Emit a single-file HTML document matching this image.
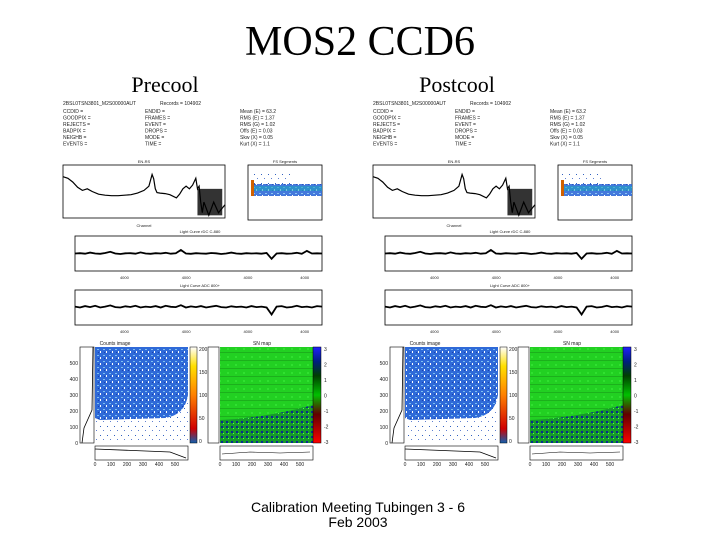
<!DOCTYPE html>
<html><head><meta charset="utf-8"><style>
body{margin:0;background:#fff;width:720px;height:540px;overflow:hidden;font-family:"Liberation Serif",serif}
svg{position:absolute;left:0;top:0}
</style></head><body>
<svg id="s" width="720" height="540" viewBox="0 0 720 540">
<defs>
<pattern id="noiseB" width="6" height="6" patternUnits="userSpaceOnUse">
<rect width="6" height="6" fill="#2f6ad8"/><rect x="1" y="1" width="2" height="1" fill="#7fc0f0"/><rect x="4" y="3" width="1" height="2" fill="#fff"/><rect x="2" y="4" width="1" height="1" fill="#1a3fb0"/></pattern>
<pattern id="noiseW" width="7" height="9" patternUnits="userSpaceOnUse">
<rect width="7" height="9" fill="#fff"/><rect x="2" y="3" width="1" height="1" fill="#3060c0"/><rect x="5" y="7" width="1" height="1" fill="#6080d0"/></pattern>
<pattern id="noiseG" width="8" height="8" patternUnits="userSpaceOnUse">
<rect width="8" height="8" fill="#22d022"/><rect x="0" y="0" width="8" height="1" fill="#1cb01c"/><rect x="3" y="4" width="2" height="2" fill="#30e030"/></pattern>
<pattern id="noiseGD" width="5" height="5" patternUnits="userSpaceOnUse">
<rect width="5" height="5" fill="#169a2a"/><rect x="1" y="1" width="2" height="2" fill="#0a2a90"/><rect x="3" y="3" width="1" height="1" fill="#50ff50"/></pattern>
<linearGradient id="cb1" x1="0" y1="1" x2="0" y2="0"><stop offset="0" stop-color="#1060b0"/><stop offset="0.15" stop-color="#d00000"/><stop offset="0.5" stop-color="#ff8000"/><stop offset="0.8" stop-color="#ffe000"/><stop offset="1" stop-color="#fff"/></linearGradient>
<linearGradient id="cb2" x1="0" y1="1" x2="0" y2="0"><stop offset="0" stop-color="#ff0000"/><stop offset="0.3" stop-color="#600000"/><stop offset="0.5" stop-color="#00c000"/><stop offset="0.7" stop-color="#004000"/><stop offset="0.85" stop-color="#002080"/><stop offset="1" stop-color="#2020ff"/></linearGradient>
</defs>
<text x="360" y="55" font-size="42" text-anchor="middle">MOS2 CCD6</text>
<text x="165" y="92" font-size="22" text-anchor="middle">Precool</text>
<text x="457" y="92" font-size="22" text-anchor="middle">Postcool</text>
<text x="358" y="512" font-size="14" text-anchor="middle" font-family="Liberation Sans,sans-serif">Calibration Meeting Tubingen 3 - 6</text>
<text x="358" y="527" font-size="14" text-anchor="middle" font-family="Liberation Sans,sans-serif">Feb 2003</text>
</svg>
<script>
const specX=[0,0.03,0.06,0.09,0.12,0.15,0.18,0.22,0.26,0.3,0.34,0.38,0.42,0.46,0.5,0.53,0.55,0.56,0.57,0.58,0.6,0.63,0.66,0.7,0.72,0.74,0.76,0.78,0.8,0.82,0.83,0.84,0.85,0.86,0.87,0.9,0.93,0.96,1];
const specY=[0.78,0.75,0.68,0.58,0.52,0.55,0.5,0.45,0.43,0.42,0.42,0.43,0.44,0.47,0.52,0.6,0.82,0.74,0.55,0.48,0.47,0.46,0.44,0.38,0.45,0.55,0.6,0.55,0.62,0.75,0.55,0.6,0.3,0.1,0.3,0.05,0.3,0.1,0.25];
const lc1=[0.5,0.52,0.49,0.55,0.5,0.48,0.53,0.6,0.5,0.47,0.51,0.52,0.49,0.56,0.5,0.48,0.52,0.5,0.54,0.49,0.51,0.7,0.5,0.48,0.52,0.5,0.49,0.53,0.51,0.47,0.5,0.55,0.5,0.48,0.52,0.5,0.51,0.49,0.53,0.2,0.5,0.52,0.49,0.5,0.54,0.48,0.65,0.5,0.51,0.5];
const lc2=[0.55,0.5,0.58,0.52,0.6,0.5,0.55,0.62,0.52,0.5,0.57,0.53,0.6,0.5,0.55,0.52,0.58,0.5,0.6,0.54,0.52,0.63,0.5,0.56,0.52,0.58,0.5,0.55,0.6,0.52,0.5,0.57,0.53,0.55,0.5,0.58,0.52,0.55,0.5,0.1,0.55,0.58,0.5,0.53,0.6,0.52,0.55,0.5,0.58,0.55];
const hdrL=["CCDID   =","GOODPIX =","REJECTS =","BADPIX  =","NEIGHB  =","EVENTS  ="];
const hdrM=["ENDID  =","FRAMES =","EVENT  =","DROPS  =","MODE   =","TIME   ="];
const hdrR=["Mean (E) = 63.2","RMS (E) = 1.37","RMS (G) = 1.02","Offs (E) = 0.03","Skw (X) = 0.05","Kurt (X) = 1.1"];
const NS="http://www.w3.org/2000/svg";
const svg=document.getElementById('s');
function el(t,a,p){const e=document.createElementNS(NS,t);for(const k in a)e.setAttribute(k,a[k]);(p||svg).appendChild(e);return e;}
function txt(x,y,s,sz,p,anc){const e=el('text',{x:x,y:y,'font-size':sz,'font-family':'Liberation Sans,sans-serif','text-anchor':anc||'start',fill:'#222'},p);e.textContent=s;return e;}
function line(xs,ys,x0,y0,w,h,g,sw,amp){const a=amp||1;const sx=v=>x0+v*w, sy=v=>y0+h-(0.5+(v-0.5)*a)*h;
 let d=xs.map((v,i)=>(i?'L':'M')+sx(v).toFixed(1)+' '+sy(ys[i]).toFixed(1)).join(' ');
 return el('path',{d:d,fill:'none',stroke:'#000','stroke-width':sw||1},g);}
function panel(ox,name){
 const g=el('g',{},svg);
 
 
 txt(ox+63,105,"2BSL0TSN3801_M2S00000AUT",5,g);
 txt(ox+160,105,"Records = 104902",5,g);
 for(let i=0;i<6;i++){const y=113+i*6.5;txt(ox+63,y,hdrL[i],5,g);txt(ox+145,y,hdrM[i],5,g);txt(ox+240,y,hdrR[i],5,g);}
 const sp=el('g',{},g);
 
 
 el('rect',{x:ox+63,y:165,width:162,height:53,fill:'none',stroke:'#000','stroke-width':0.8},sp);
 txt(ox+144,163,"EN-RS",4,sp,'middle');txt(ox+144,227,"Channel",4,sp,'middle');
 line(specX,specY,ox+63,165,162,53,sp,1.2);
 el('rect',{x:ox+63+0.83*162,y:165+53*0.45,width:0.17*162*0.9,height:53*0.5,fill:'#000',opacity:0.8},sp);
 const sc=el('g',{},g);
 
 
 el('rect',{x:ox+248,y:165,width:74,height:55,fill:'#fff',stroke:'#000','stroke-width':0.8},sc);
 el('rect',{x:ox+251,y:184,width:71,height:12,fill:'url(#noiseB)',opacity:0.9},sc);
 el('rect',{x:ox+251,y:186,width:71,height:5,fill:'#20a0c0',opacity:0.6},sc);
 el('rect',{x:ox+251,y:172,width:40,height:12,fill:'url(#noiseW)'},sc);
 el('rect',{x:ox+251,y:180,width:3,height:16,fill:'#d06000'},sc);
 txt(ox+285,163,"FS Segments",4,sc,'middle');
 [[236,lc1,'light-curve-1'],[290,lc2,'light-curve-2']].forEach(([y0,arr,n])=>{
  const lg=el('g',{},g);
  
  
  el('rect',{x:ox+75,y:y0,width:247,height:35,fill:'none',stroke:'#000','stroke-width':0.8},lg);
  const xs=arr.map((v,i)=>i/(arr.length-1));
  line(xs,arr,ox+75,y0,247,35,lg,1.8,0.5);
  txt(ox+200,y0-3,n=='light-curve-1'?"Light Curve rDC C-880":"Light Curve ADC 800+",4,lg,'middle');
  [0.2,0.45,0.7,0.93].forEach(f=>txt(ox+75+f*247,y0+43,"4000",4,lg,'middle'));
 });
 const ci=el('g',{},g);
 
 
 txt(ox+115,345,"Counts image",5,ci,'middle');
 el('rect',{x:ox+95,y:347,width:93,height:96,fill:'url(#noiseW)'},ci);
 el('path',{d:`M${ox+95} 347 H${ox+188} V395 Q${ox+185} 415 ${ox+165} 418 L${ox+100} 420 L${ox+95} 418 Z`,fill:'url(#noiseB)'},ci);
 el('rect',{x:ox+80,y:347,width:14,height:96,fill:'#fff',stroke:'#000','stroke-width':0.6},ci);
 el('path',{d:`M${ox+93} 347 L${ox+92} 410 L${ox+84} 428 L${ox+82} 443`,fill:'none',stroke:'#000','stroke-width':0.8},ci);
 el('rect',{x:ox+95,y:446,width:93,height:14,fill:'#fff',stroke:'#000','stroke-width':0.6},ci);
 el('path',{d:`M${ox+95} 449 L${ox+170} 452 L${ox+186} 458`,fill:'none',stroke:'#000','stroke-width':0.8},ci);
 el('rect',{x:ox+190,y:347,width:7,height:96,fill:'url(#cb1)',stroke:'#000','stroke-width':0.5},ci);
 ["200","150","100","50","0"].forEach((s,i)=>txt(ox+199,351+i*23,s,5,ci));
 ["500","400","300","200","100","0"].forEach((s,i)=>txt(ox+78,365+i*16,s,5,ci,'end'));
 ["0","100","200","300","400","500"].forEach((s,i)=>txt(ox+95+i*16,466,s,5,ci,'middle'));
 const sn=el('g',{},g);
 
 
 txt(ox+262,345,"SN map",5,sn,'middle');
 el('rect',{x:ox+220,y:347,width:93,height:96,fill:'url(#noiseG)'},sn);
 el('path',{d:`M${ox+220} 420 Q${ox+265} 418 ${ox+313} 405 V443 H${ox+220} Z`,fill:'url(#noiseGD)'},sn);
 el('rect',{x:ox+208,y:347,width:11,height:96,fill:'#fff',stroke:'#000','stroke-width':0.6},sn);
 el('rect',{x:ox+313,y:347,width:8,height:96,fill:'url(#cb2)',stroke:'#000','stroke-width':0.5},sn);
 el('rect',{x:ox+220,y:446,width:93,height:14,fill:'#fff',stroke:'#000','stroke-width':0.6},sn);
 el('path',{d:`M${ox+222} 454 L${ox+250} 452 L${ox+280} 453 L${ox+310} 452`,fill:'none',stroke:'#000','stroke-width':0.6},sn);
 ["3","2","1","0","-1","-2","-3"].forEach((s,i)=>txt(ox+324,351+i*15.5,s,5,sn));
 ["0","100","200","300","400","500"].forEach((s,i)=>txt(ox+220+i*16,466,s,5,sn,'middle'));
}
panel(0,'precool');
panel(310,'postcool');
</script>
</body></html>
